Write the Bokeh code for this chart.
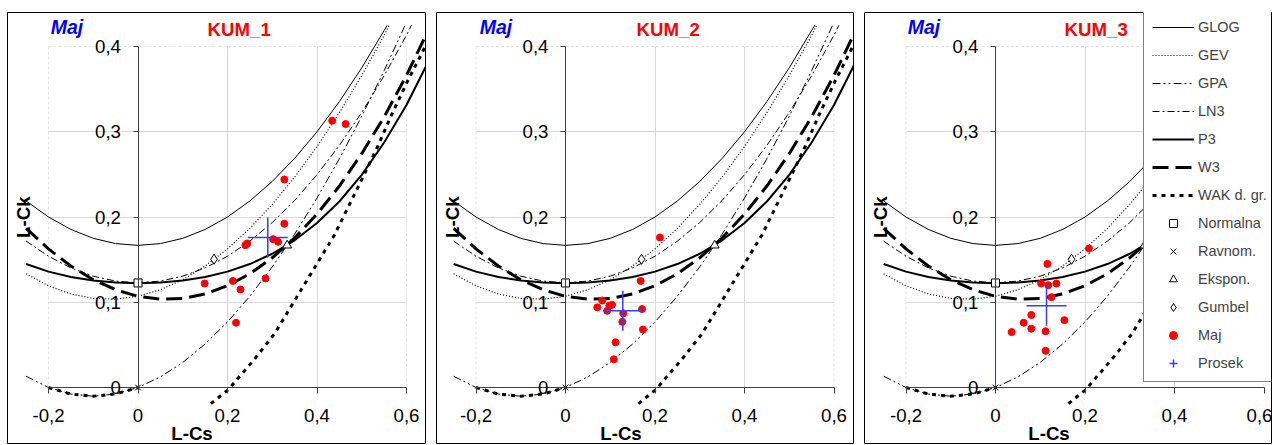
import math
from bokeh.plotting import figure
from bokeh.models import (Range1d, LinearAxis, FixedTicker, CustomJSTickFormatter,
                          Grid, BoxAnnotation, Label, Legend, LegendItem)
from bokeh.layouts import row
from bokeh.embed import file_html
from bokeh.resources import INLINE

NAN = float("nan")

# ---------------- data ----------------
PANEL_TITLES = ["KUM_1", "KUM_2", "KUM_3"]
SEASON = "Maj"
X_LABEL = "L-Cs"
Y_LABEL = "L-Ck"
X_TICKS = [-0.2, 0.0, 0.2, 0.4, 0.6]
Y_TICKS = [0.0, 0.1, 0.2, 0.3, 0.4]
X_GRID = [0.2, 0.4]
Y_GRID = [0.1, 0.2, 0.3]

GLOG_T3 = [-0.25, -0.20, -0.15, -0.10, -0.05, 0.00, 0.05, 0.10, 0.15, 0.20, 0.25, 0.30, 0.35, 0.40, 0.45, 0.50, 0.55, 0.557]
GLOG_T4 = [0.2188, 0.2000, 0.1854, 0.1750, 0.1688, 0.1667, 0.1688, 0.1750, 0.1854, 0.2000, 0.2188, 0.2417, 0.2688, 0.3000, 0.3354, 0.3750, 0.4188, 0.4250]

GEV_T3 = [-0.25, -0.20, -0.15, -0.10, -0.05, 0.00, 0.05, 0.10, 0.15, 0.20, 0.25, 0.30, 0.35, 0.40, 0.45, 0.50, 0.55, 0.561]
GEV_T4 = [0.1334, 0.1193, 0.1097, 0.1045, 0.1036, 0.1070, 0.1147, 0.1265, 0.1425, 0.1626, 0.1867, 0.2148, 0.2468, 0.2827, 0.3224, 0.3659, 0.4130, 0.4250]

GPA_T3 = [-0.25, -0.20, -0.15, -0.10, -0.05, 0.00, 0.05, 0.10, 0.15, 0.20, 0.25, 0.30, 0.35, 0.40, 0.45, 0.50, 0.55, 0.597]
GPA_T4 = [0.0132, 0.0000, -0.0077, -0.0102, -0.0076, 0.0000, 0.0124, 0.0294, 0.0510, 0.0769, 0.1071, 0.1415, 0.1799, 0.2222, 0.2684, 0.3182, 0.3716, 0.4250]

LN3_T3 = [-0.25, -0.20, -0.15, -0.10, -0.05, 0.00, 0.05, 0.10, 0.15, 0.20, 0.25, 0.30, 0.35, 0.40, 0.45, 0.50, 0.55, 0.60, 0.611]
LN3_T4 = [0.1717, 0.1540, 0.1403, 0.1306, 0.1248, 0.1228, 0.1248, 0.1306, 0.1403, 0.1540, 0.1717, 0.1935, 0.2194, 0.2496, 0.2839, 0.3226, 0.3657, 0.4133, 0.4250]

P3_T3 = [-0.25, -0.20, -0.15, -0.10, -0.05, 0.00, 0.05, 0.10, 0.15, 0.20, 0.25, 0.30, 0.35, 0.40, 0.45, 0.50, 0.55, 0.60, 0.65]
P3_T4 = [0.1448, 0.1359, 0.1297, 0.1255, 0.1232, 0.1224, 0.1232, 0.1255, 0.1297, 0.1359, 0.1448, 0.1569, 0.1727, 0.1929, 0.2182, 0.2494, 0.2874, 0.3314, 0.3835]

W3_T3 = [-0.25, -0.20, -0.15, -0.10, -0.05, 0.00, 0.05, 0.10, 0.15, 0.20, 0.25, 0.30, 0.35, 0.40, 0.45, 0.50, 0.55, 0.60, 0.65]
W3_T4 = [0.1867, 0.1626, 0.1425, 0.1265, 0.1147, 0.1070, 0.1036, 0.1045, 0.1097, 0.1193, 0.1334, 0.1521, 0.1754, 0.2034, 0.2363, 0.2743, 0.3174, 0.3661, 0.4204]

WAK_T3 = [-0.20, -0.15, -0.10, -0.05, 0.00, NAN, 0.163, 0.204, 0.219, 0.260, 0.305, 0.364, 0.439, 0.502, 0.536, 0.565, 0.603, 0.644]
WAK_T4 = [0.0000, -0.0077, -0.0102, -0.0076, 0.0000, NAN, -0.0190, -0.0015, 0.0082, 0.0330, 0.0630, 0.1140, 0.1790, 0.2460, 0.2830, 0.3180, 0.3600, 0.4020]

NORMAL_T3, NORMAL_T4 = [0.0], [0.1226]
UNIFORM_T3, UNIFORM_T4 = [0.0], [0.0]
EXPON_T3, EXPON_T4 = [0.3333], [0.1667]
GUMBEL_T3, GUMBEL_T4 = [0.1699], [0.1504]

MAJ1_T3 = [0.434, 0.464, 0.327, 0.327, 0.302, 0.313, 0.244, 0.240, 0.149, 0.212, 0.229, 0.285, 0.219]
MAJ1_T4 = [0.313, 0.309, 0.244, 0.192, 0.174, 0.171, 0.169, 0.167, 0.122, 0.125, 0.115, 0.128, 0.076]
MAJ2_T3 = [0.211, 0.168, 0.082, 0.071, 0.093, 0.098, 0.104, 0.129, 0.171, 0.127, 0.173, 0.112, 0.108]
MAJ2_T4 = [0.176, 0.125, 0.102, 0.094, 0.090, 0.096, 0.097, 0.087, 0.092, 0.077, 0.068, 0.053, 0.033]
MAJ3_T3 = [0.209, 0.116, 0.102, 0.118, 0.136, 0.125, 0.080, 0.063, 0.036, 0.080, 0.112, 0.154, 0.112]
MAJ3_T4 = [0.163, 0.145, 0.122, 0.120, 0.122, 0.106, 0.085, 0.076, 0.065, 0.069, 0.066, 0.079, 0.043]

PROSEK_T3 = [0.290, 0.128, 0.114]
PROSEK_T4 = [0.176, 0.090, 0.096]

# ---------------- layout constants (page pixels) ----------------
SX = 447.5            # px per unit L-Cs
SY = 852.5            # px per unit L-Ck
FIG_H = 444
FRAME_TOP = 12        # page y of frame top
Y0_PAGE = 387.0       # page y of L-Ck = 0
FIG_LEFT = [0, 435, 863]
WIDTHS = [426, 419, 409]
BORDER_L = [7, 1, 1]
X0_PAGE = [137.5, 565.0, 995.0]   # page x of L-Cs = 0
FONT = "Liberation Sans"

fmt = CustomJSTickFormatter(code="""
if (Math.abs(tick) < 1e-9) { return "0"; }
return tick.toFixed(1).replace(".", ",");
""")


def make_panel(i, maj_t3, maj_t4, legend):
    W = WIDTHS[i]
    fl = FIG_LEFT[i]
    x0 = X0_PAGE[i]
    frame_l = fl + BORDER_L[i]
    frame_r = fl + W - 1
    xs = (frame_l - x0) / SX
    xe = (frame_r - x0) / SX
    ye = (Y0_PAGE - FRAME_TOP) / SY
    ys = (Y0_PAGE - FIG_H) / SY

    def dx(off):          # offset from frame left, in px
        return (frame_l + off - x0) / SX

    def dy(py):           # page y
        return (Y0_PAGE - py) / SY

    p = figure(width=W, height=FIG_H, x_range=Range1d(xs, xe), y_range=Range1d(ys, ye),
               x_axis_type=None, y_axis_type=None, toolbar_location=None,
               output_backend="svg", min_border_left=BORDER_L[i], min_border_right=1,
               min_border_top=FRAME_TOP, min_border_bottom=0)
    p.title.visible = False
    p.outline_line_color = "black"
    p.outline_line_width = 1
    p.background_fill_color = "white"
    p.border_fill_color = "white"

    # grid and dashed plot-area box
    p.add_layout(Grid(dimension=0, ticker=FixedTicker(ticks=X_GRID), cross_bounds=(0.0, 0.4),
                      grid_line_color="#d9d9d9", grid_line_width=1))
    p.add_layout(Grid(dimension=1, ticker=FixedTicker(ticks=Y_GRID), cross_bounds=(-0.2, 0.6),
                      grid_line_color="#d9d9d9", grid_line_width=1))
    p.add_layout(BoxAnnotation(left=X_TICKS[0], right=X_TICKS[-1], bottom=Y_TICKS[0], top=Y_TICKS[-1],
                               fill_alpha=0, line_color="#a6a6a6", line_dash="3 2", line_width=1,
                               level="underlay"))

    # axes crossing at the origin
    xa = LinearAxis(ticker=FixedTicker(ticks=X_TICKS, minor_ticks=[]), formatter=fmt,
                    fixed_location=0, bounds=(X_TICKS[0], X_TICKS[-1]))
    ya = LinearAxis(ticker=FixedTicker(ticks=Y_TICKS, minor_ticks=[]), formatter=fmt,
                    fixed_location=0, bounds=(Y_TICKS[0], Y_TICKS[-1]))
    for a in (xa, ya):
        a.axis_line_color = "#404040"
        a.major_tick_line_color = "#404040"
        a.major_tick_in = 0
        a.minor_tick_out = 0
        a.minor_tick_in = 0
        a.major_label_text_font = FONT
        a.major_label_text_font_size = "18.67px"
        a.major_label_text_color = "black"
    xa.major_tick_out = 6
    xa.major_label_standoff = 15
    ya.major_tick_out = 5
    ya.major_label_standoff = 12
    p.add_layout(xa, "below")
    p.add_layout(ya, "left")

    # theoretical curves
    r_glog = p.line(GLOG_T3, GLOG_T4, line_color="black", line_width=1)
    r_gev = p.line(GEV_T3, GEV_T4, line_color="black", line_width=1.2, line_dash="1 2")
    r_gpa = p.line(GPA_T3, GPA_T4, line_color="black", line_width=1, line_dash="8 3 2 3 2 3")
    r_ln3 = p.line(LN3_T3, LN3_T4, line_color="black", line_width=1, line_dash="7 3 2 3")
    r_p3 = p.line(P3_T3, P3_T4, line_color="black", line_width=2)
    r_w3 = p.line(W3_T3, W3_T4, line_color="black", line_width=3, line_dash="16 7")
    r_wak = p.line(WAK_T3, WAK_T4, line_color="black", line_width=3, line_dash="4 5")

    # special distributions
    r_nor = p.scatter(NORMAL_T3, NORMAL_T4, marker="square", size=8, fill_color="white", line_color="black")
    r_uni = p.scatter(UNIFORM_T3, UNIFORM_T4, marker="x", size=8, line_color="black")
    r_exp = p.scatter(EXPON_T3, EXPON_T4, marker="triangle", size=9, fill_color="white", line_color="black")
    r_gum = p.scatter(GUMBEL_T3, GUMBEL_T4, marker="diamond", size=10, fill_color="white", line_color="black")

    # sample points and mean
    r_maj = p.scatter(maj_t3, maj_t4, marker="circle", size=7, fill_color="#ff0000", line_color="#ff0000")
    r_pro = p.scatter([PROSEK_T3[i]], [PROSEK_T4[i]], marker="cross", size=40,
                      line_color="#3b3bff", line_width=1.5)

    # texts
    p.add_layout(Label(x=dx(59.5), y=dy(26.5), text=SEASON, text_align="center", text_baseline="middle",
                       text_font=FONT, text_font_size="19.5px", text_font_style="bold italic",
                       text_color="#0000ff"))
    p.add_layout(Label(x=dx(231.7), y=dy(28.5), text=PANEL_TITLES[i], text_align="center",
                       text_baseline="middle", text_font=FONT, text_font_size="18.67px",
                       text_font_style="bold", text_color="#ff0000"))
    p.add_layout(Label(x=dx(184.5), y=dy(433), text=X_LABEL, text_align="center", text_baseline="middle",
                       text_font=FONT, text_font_size="18.67px", text_font_style="bold", text_color="black"))
    p.add_layout(Label(x=dx(15.5), y=dy(216.7), text=Y_LABEL, text_align="center", text_baseline="middle",
                       angle=math.pi / 2, text_font=FONT, text_font_size="18.67px", text_font_style="bold",
                       text_color="black"))

    if legend:
        items = [
            LegendItem(label="GLOG", renderers=[r_glog]),
            LegendItem(label="GEV", renderers=[r_gev]),
            LegendItem(label="GPA", renderers=[r_gpa]),
            LegendItem(label="LN3", renderers=[r_ln3]),
            LegendItem(label="P3", renderers=[r_p3]),
            LegendItem(label="W3", renderers=[r_w3]),
            LegendItem(label="WAK d. gr.", renderers=[r_wak]),
            LegendItem(label="Normalna", renderers=[r_nor]),
            LegendItem(label="Ravnom.", renderers=[r_uni]),
            LegendItem(label="Ekspon.", renderers=[r_exp]),
            LegendItem(label="Gumbel", renderers=[r_gum]),
            LegendItem(label="Maj", renderers=[r_maj]),
            LegendItem(label="Prosek", renderers=[r_pro]),
        ]
        leg_left = 1143 - frame_l
        leg_bottom = FIG_H - 382
        lg = Legend(items=items, location=(leg_left, leg_bottom), glyph_width=42, glyph_height=20,
                    label_height=20, label_standoff=4, spacing=8, padding=8, margin=0,
                    label_text_font=FONT, label_text_font_size="14.5px",
                    border_line_color="black", border_line_width=1,
                    background_fill_color="white", background_fill_alpha=1.0)
        p.add_layout(lg)
    return p


p1 = make_panel(0, MAJ1_T3, MAJ1_T4, False)
p2 = make_panel(1, MAJ2_T3, MAJ2_T4, False)
p3 = make_panel(2, MAJ3_T3, MAJ3_T4, True)

layout = row(p1, p2, p3, spacing=9)
open("out.html", "w").write(file_html(layout, INLINE))
